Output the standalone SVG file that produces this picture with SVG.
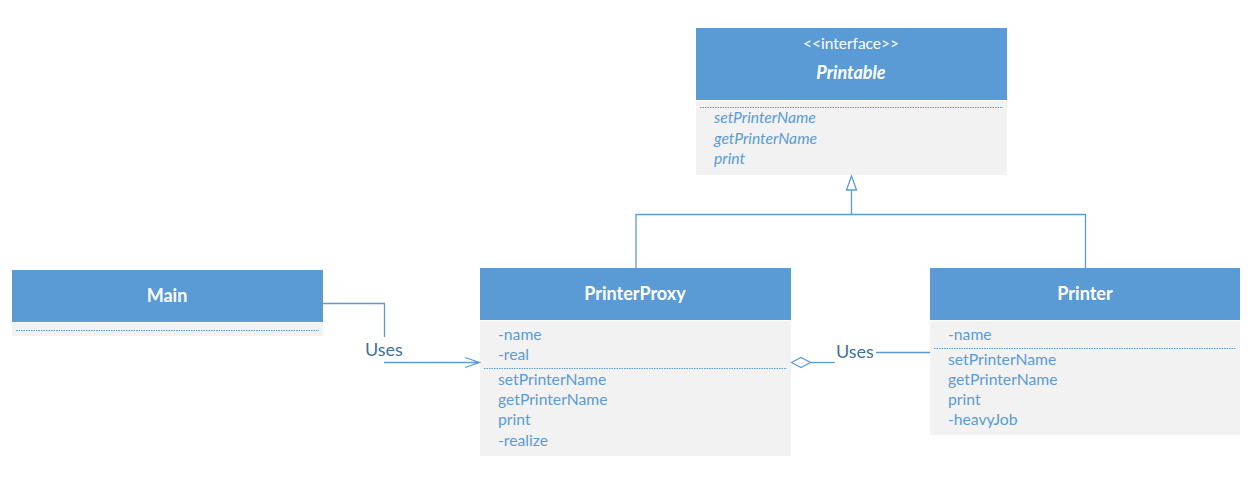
<svg xmlns="http://www.w3.org/2000/svg" width="1253" height="487" viewBox="0 0 1253 487">
<style>
.hd{fill:#5B9BD5}
.bd{fill:#F2F2F2}
.t{font-family:Lato,"Open Sans",sans-serif;font-size:15.7px;fill:#5B9BD5}
.ti{font-family:Lato,"Open Sans",sans-serif;font-size:15.7px;fill:#5B9BD5;font-style:italic}
.h{font-family:Lato,"Open Sans",sans-serif;font-size:18px;font-weight:bold;fill:#fff;text-anchor:middle}
.st{font-family:Lato,"Open Sans",sans-serif;font-size:15.5px;fill:#fff;text-anchor:middle}
.dot{stroke:#5B9BD5;stroke-width:1;stroke-dasharray:1.5 1;fill:none}
.ln{stroke:#5B9BD5;stroke-width:1.3;fill:none}
.lb{font-family:Lato,"Open Sans",sans-serif;font-size:18px;fill:#41719C}
</style>
<g id="Printable">
<rect class="hd" x="696" y="28" width="311" height="72"/>
<rect class="bd" x="696" y="101" width="311" height="74"/>
<text class="st" x="851" y="49">&lt;&lt;interface&gt;&gt;</text>
<text class="h" x="851" y="79" font-style="italic" font-size="18.5px">Printable</text>
<line class="dot" x1="700" y1="107.5" x2="1003" y2="107.5" stroke="#c08080"/>
<text class="ti" x="714" y="123">setPrinterName</text>
<text class="ti" x="714" y="144">getPrinterName</text>
<text class="ti" x="714" y="164">print</text>
</g>
<g id="Main">
<rect class="hd" x="12" y="270" width="311" height="52"/>
<rect class="bd" x="12" y="323" width="311" height="13"/>
<text class="h" x="167" y="302">Main</text>
<line class="dot" x1="16" y1="330.5" x2="319" y2="330.5"/>
</g>
<g id="PrinterProxy">
<rect class="hd" x="480" y="268" width="311" height="52"/>
<rect class="bd" x="480" y="321" width="311" height="135"/>
<text class="h" x="635" y="300">PrinterProxy</text>
<text class="t" x="498" y="340">-name</text>
<text class="t" x="498" y="360">-real</text>
<line class="dot" x1="484" y1="368.5" x2="787" y2="368.5"/>
<text class="t" x="498" y="385">setPrinterName</text>
<text class="t" x="498" y="405">getPrinterName</text>
<text class="t" x="498" y="425">print</text>
<text class="t" x="498" y="446">-realize</text>
</g>
<g id="Printer">
<rect class="hd" x="930" y="268" width="310" height="52"/>
<rect class="bd" x="930" y="321" width="310" height="114"/>
<text class="h" x="1085" y="300">Printer</text>
<text class="t" x="948" y="340">-name</text>
<line class="dot" x1="934" y1="348.5" x2="1236" y2="348.5"/>
<text class="t" x="948" y="365">setPrinterName</text>
<text class="t" x="948" y="385">getPrinterName</text>
<text class="t" x="948" y="405">print</text>
<text class="t" x="948" y="425">-heavyJob</text>
</g>
<g id="connectors">
<path class="ln" d="M636 268V214.5H1085.5V268M851.5 214.5V190"/>
<path d="M851.5 176L846.5 190H856.5Z" fill="#fff" stroke="#5B9BD5" stroke-width="1.3"/>
<path class="ln" d="M323 303.5H384.5V337"/>
<path class="ln" d="M384 362.5H479M465 357.5L479.5 362.5L465 367.5"/>
<text class="lb" x="365" y="356">Uses</text>
<path d="M791.5 362.5L801 357.5L810.5 362.5L801 367.5Z" fill="#fff" stroke="#5B9BD5" stroke-width="1.3"/>
<path class="ln" d="M810.5 362.5H835"/>
<text class="lb" x="836" y="358">Uses</text>
<path class="ln" d="M876 352.5H930"/>
</g>
</svg>
